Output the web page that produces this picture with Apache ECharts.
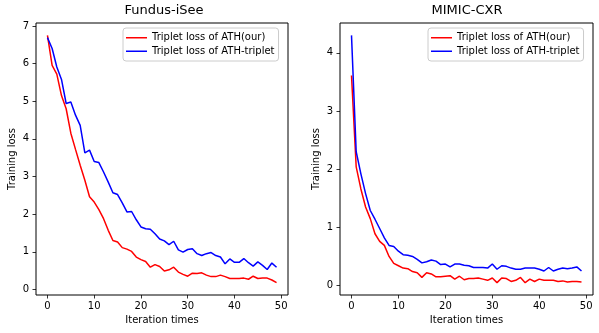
<!DOCTYPE html>
<html>
<head>
<meta charset="utf-8">
<script src="https://cdn.jsdelivr.net/npm/echarts@6/dist/echarts.min.js"></script>
<style>
  html, body { margin: 0; padding: 0; background: #fff; }
  #chart { width: 599px; height: 333px; }
</style>
</head>
<body>
<div id="chart"></div>
<script>
const iterations = Array.from({ length: 50 }, (_, i) => i)
const xTicks = [0, 10, 20, 30, 40, 50]
const leftYTicks = [0, 1, 2, 3, 4, 5, 6, 7]
const rightYTicks = [0, 1, 2, 3, 4]
const seriesNames = ['Triplet loss of ATH(our)', 'Triplet loss of ATH-triplet']

// Fundus-iSee
const fundusOur = [
  6.75, 5.95, 5.72, 5.15, 4.8, 4.15, 3.72, 3.3, 2.9, 2.46,
  2.32, 2.12, 1.88, 1.57, 1.3, 1.26, 1.11, 1.07, 1.01, 0.86,
  0.79, 0.74, 0.59, 0.66, 0.61, 0.49, 0.52, 0.59, 0.46, 0.4,
  0.35, 0.43, 0.42, 0.44, 0.38, 0.34, 0.34, 0.38, 0.34, 0.29,
  0.29, 0.29, 0.3, 0.27, 0.35, 0.29, 0.3, 0.3, 0.25, 0.18
]
const fundusTriplet = [
  6.69, 6.4, 5.91, 5.58, 4.94, 4.98, 4.63, 4.36, 3.63, 3.7,
  3.4, 3.37, 3.12, 2.85, 2.57, 2.52, 2.3, 2.06, 2.07, 1.85,
  1.66, 1.61, 1.6, 1.48, 1.34, 1.29, 1.19, 1.28, 1.05, 0.99,
  1.06, 1.08, 0.95, 0.9, 0.95, 0.98, 0.9, 0.86, 0.68, 0.81,
  0.72, 0.72, 0.82, 0.71, 0.62, 0.73, 0.64, 0.53, 0.7, 0.59
]

// MIMIC-CXR
const mimicOur = [
  3.61, 2.04, 1.66, 1.35, 1.15, 0.89, 0.76, 0.69, 0.5, 0.38,
  0.34, 0.3, 0.29, 0.24, 0.22, 0.14, 0.22, 0.2, 0.15, 0.15,
  0.16, 0.17, 0.11, 0.16, 0.1, 0.12, 0.12, 0.13, 0.11, 0.09,
  0.13, 0.05, 0.13, 0.12, 0.07, 0.09, 0.14, 0.05, 0.11, 0.07,
  0.11, 0.09, 0.09, 0.09, 0.07, 0.08, 0.06, 0.07, 0.07, 0.06
]
const mimicTriplet = [
  4.3, 2.3, 1.92, 1.58, 1.29, 1.14, 0.98, 0.82, 0.69, 0.67,
  0.59, 0.53, 0.52, 0.5, 0.45, 0.39, 0.41, 0.44, 0.42, 0.36,
  0.37, 0.32, 0.37, 0.37, 0.35, 0.34, 0.31, 0.31, 0.31, 0.3,
  0.37, 0.28, 0.34, 0.33, 0.3, 0.28, 0.28, 0.3, 0.3, 0.3,
  0.28, 0.25, 0.31, 0.25, 0.28, 0.3, 0.29, 0.3, 0.32, 0.25
]

const font = 'DejaVu Sans'
const toPoints = vals => vals.map((v, i) => [iterations[i], v])

// matplotlib style 5% margins
function padRange(a, b) {
  const lo = Math.min(...a, ...b)
  const hi = Math.max(...a, ...b)
  const m = (hi - lo) * 0.05
  return [lo - m, hi + m]
}
const xPad = (iterations[iterations.length - 1] - iterations[0]) * 0.05
const leftRange = padRange(fundusOur, fundusTriplet)
const rightRange = padRange(mimicOur, mimicTriplet)

const grids = [
  { left: 36, top: 23, width: 252, height: 272 },
  { left: 340, top: 23, width: 253, height: 272 }
]

function xAxisFor(idx) {
  return {
    type: 'value',
    gridIndex: idx,
    min: iterations[0] - xPad,
    max: iterations[iterations.length - 1] + xPad,
    name: 'Iteration times',
    nameLocation: 'middle',
    nameGap: 19,
    nameTextStyle: { color: '#000', fontSize: 10, fontFamily: font },
    axisLine: { show: false, onZero: false },
    axisTick: { show: true, inside: false, length: 3.5, lineStyle: { color: '#000', width: 0.8 }, customValues: xTicks },
    axisLabel: { color: '#000', fontSize: 10, fontFamily: font, margin: 6, customValues: xTicks },
    splitLine: { show: false }
  }
}
function yAxisFor(idx, range, ticks) {
  return {
    type: 'value',
    gridIndex: idx,
    min: range[0],
    max: range[1],
    name: 'Training loss',
    nameLocation: 'middle',
    nameGap: 19,
    nameTextStyle: { color: '#000', fontSize: 10, fontFamily: font },
    axisLine: { show: false, onZero: false },
    axisTick: { show: true, inside: false, length: 3.5, lineStyle: { color: '#000', width: 0.8 }, customValues: ticks },
    axisLabel: { color: '#000', fontSize: 10, fontFamily: font, margin: 7, customValues: ticks },
    splitLine: { show: false }
  }
}
function legendAt(left) {
  return {
    left: left,
    top: 28,
    orient: 'vertical',
    data: seriesNames,
    icon: 'rect',
    itemWidth: 21,
    itemHeight: 1.5,
    itemGap: 2,
    itemTextGap: 9,
    itemStyle: { borderWidth: 0 },
    textStyle: { color: '#000', fontSize: 10, fontFamily: font, lineHeight: 11.5 },
    padding: [4, 4, 4, 3],
    borderColor: '#ccc',
    borderWidth: 1,
    borderRadius: 3,
    backgroundColor: 'rgba(255,255,255,0.8)',
    selectedMode: false
  }
}
function lineSeries(name, color, vals, idx) {
  return {
    name: name,
    type: 'line',
    xAxisIndex: idx,
    yAxisIndex: idx,
    data: toPoints(vals),
    color: color,
    showSymbol: false,
    symbol: 'none',
    lineStyle: { color: color, width: 1.5 },
    emphasis: { disabled: true },
    animation: false
  }
}

const myChart = echarts.init(document.getElementById('chart'))
const option = {
  backgroundColor: '#fff',
  animation: false,
  title: [
    { text: 'Fundus-iSee', left: 164, top: 4, textAlign: 'center', padding: 0,
      textStyle: { color: '#000', fontSize: 13, fontWeight: 'normal', fontFamily: font } },
    { text: 'MIMIC-CXR', left: 467, top: 4, textAlign: 'center', padding: 0,
      textStyle: { color: '#000', fontSize: 13, fontWeight: 'normal', fontFamily: font } }
  ],
  grid: grids.map(g => Object.assign({ show: true, borderColor: '#000', borderWidth: 1, backgroundColor: 'transparent' }, g)),
  xAxis: [xAxisFor(0), xAxisFor(1)],
  yAxis: [yAxisFor(0, leftRange, leftYTicks), yAxisFor(1, rightRange, rightYTicks)],
  legend: [legendAt(123), legendAt(428)],
  series: [
    lineSeries(seriesNames[0], '#ff0000', fundusOur, 0),
    lineSeries(seriesNames[1], '#0000ff', fundusTriplet, 0),
    lineSeries(seriesNames[0], '#ff0000', mimicOur, 1),
    lineSeries(seriesNames[1], '#0000ff', mimicTriplet, 1)
  ]
}
myChart.setOption(option)
</script>
</body>
</html>
